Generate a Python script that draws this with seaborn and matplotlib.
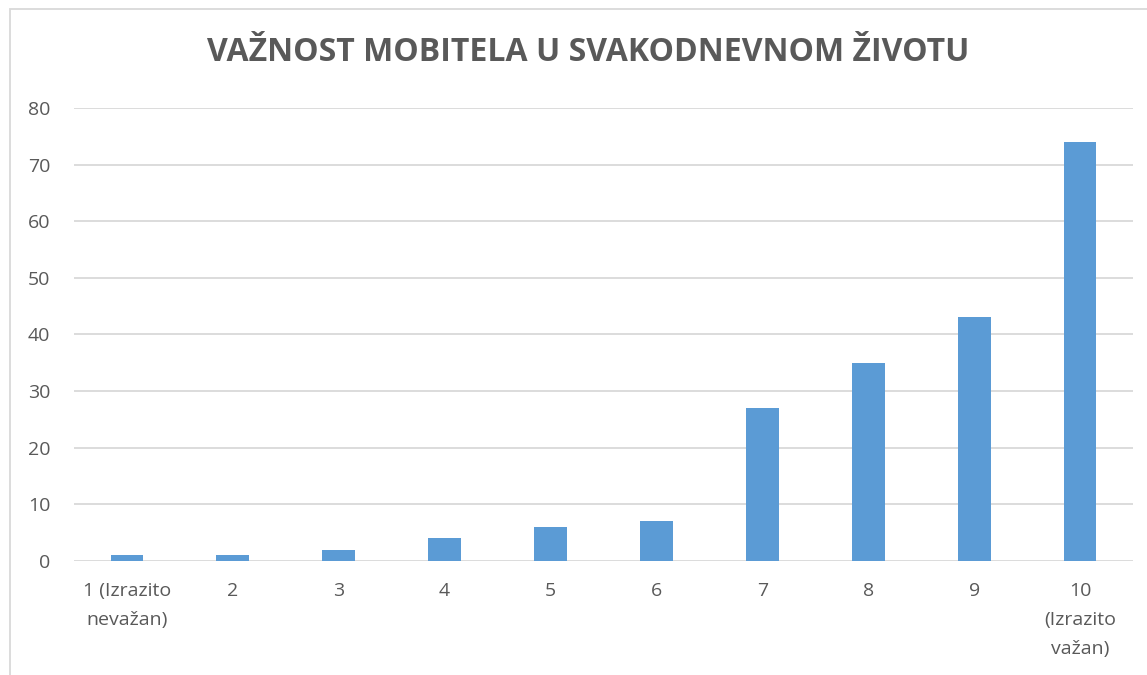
import matplotlib
matplotlib.use('Agg')
import matplotlib.pyplot as plt
import matplotlib.patches as mpatches
import seaborn as sns
import pandas as pd

# Chart data
categories = ['1 (Izrazito\nnevažan)', '2', '3', '4', '5', '6', '7', '8', '9', '10\n(Izrazito\nvažan)']
values = [1, 1, 2, 4, 6, 7, 27, 35, 43, 74]
y_ticks = [0, 10, 20, 30, 40, 50, 60, 70, 80]

df = pd.DataFrame({'ocjena': categories, 'broj': values})

sns.set_style('white')
plt.rcParams['font.family'] = ['Open Sans', 'DejaVu Sans']

fig = plt.figure(figsize=(11.47, 6.75), dpi=100)
ax = fig.add_axes([0.0645, 0.169, 0.9233, 0.671])

sns.barplot(data=df, x='ocjena', y='broj', color='#5B9BD5', saturation=1, width=0.31,
            linewidth=0, ax=ax, zorder=3)

ax.set_xlim(-0.5, len(categories) - 0.5)
ax.set_ylim(0, 80)
ax.set_yticks(y_ticks)
ax.yaxis.grid(True, color='#D9D9D9', linewidth=1.3, zorder=0)
ax.set_axisbelow(True)
for s in ax.spines.values():
    s.set_visible(False)
ax.tick_params(axis='both', length=0, labelsize=14, colors='#595959')
ax.tick_params(axis='y', pad=17)
ax.tick_params(axis='x', pad=15)
for lbl in ax.get_xticklabels():
    lbl.set_linespacing(1.8)
ax.set_xlabel('')
ax.set_ylabel('')

fig.text(0.513, 0.922, 'VAŽNOST MOBITELA U SVAKODNEVNOM ŽIVOTU', ha='center', va='center',
         fontsize=23, fontweight='bold', color='#595959')

# outer chart border (Excel style)
fig.patches.append(mpatches.Rectangle((10 / 1147, -0.05), 1.2, 1 - 9 / 675 + 0.05,
                                      transform=fig.transFigure, fill=False,
                                      edgecolor='#D9D9D9', linewidth=1.3))

fig.savefig('out.png', dpi=100, facecolor='white')
